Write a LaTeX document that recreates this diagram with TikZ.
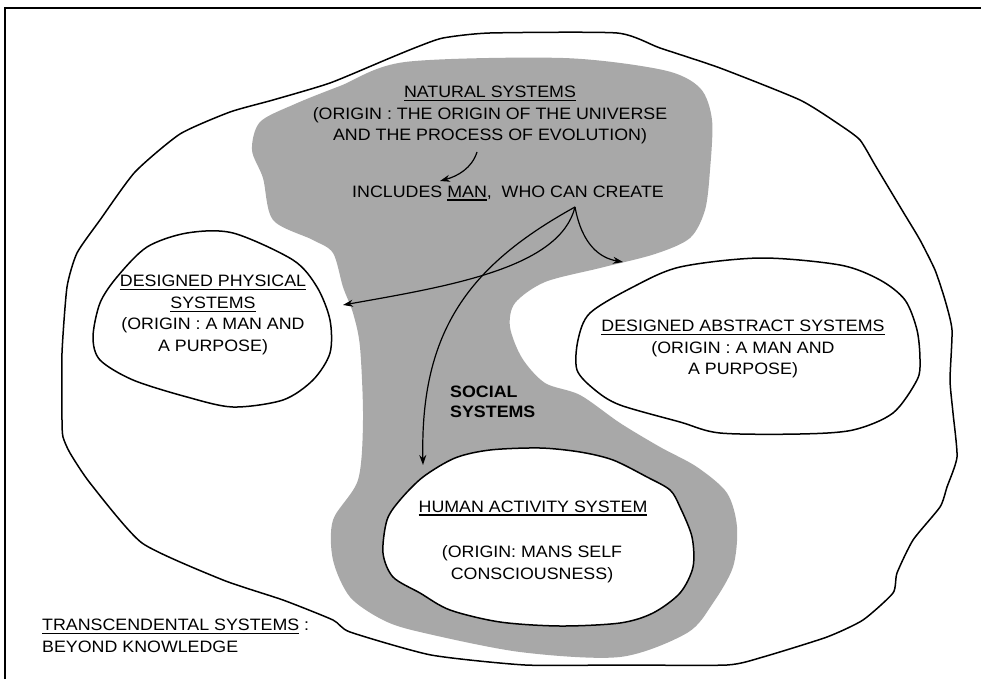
\documentclass[tikz,border=0pt]{standalone}
\usepackage{fontspec}
\setmainfont{Liberation Sans}[FakeStretch=1.08]
\usetikzlibrary{arrows.meta}
\newcommand\myul[1]{\setbox0\hbox{#1}\rlap{\rule[-3.5pt]{\wd0}{1.3pt}}\box0}
\begin{document}
\begin{tikzpicture}[x=1pt,y=-1pt,
  blob/.style={draw=black, line width=1.5pt, fill=white, line join=round},
  outline/.style={draw=black, line width=1.5pt, line join=round},
  shadearea/.style={fill=black!34},
  lbl/.style={font=\fontsize{16.5}{21.5}\selectfont, align=center, inner sep=0pt},
  arr/.style={-{Stealth[length=10pt,width=7pt]}, line width=1.2pt},
  frameline/.style={line width=1.5pt}]
\useasboundingbox (0,0) rectangle (981,679);
\fill[white] (0,0) rectangle (981,679);
% frame
\draw[frameline] (5,679) -- (5,8) -- (981,8);
% shaded region (natural + social systems)
\fill[shadearea] plot[smooth cycle, tension=0.5] coordinates {
 (252,150) (260,122) (295,104) (340,86) (405,62) (563,58) (663,70) (700,88)
 (712,120) (710,170) (705,210) (690,238) (655,254) (600,268) (545,282)
 (515,303) (510,327) (522,358) (545,383) (580,395) (620,423) (660,447)
 (697,467) (727,493) (737,527) (733,567) (713,603) (687,633) (620,657)
 (520,652) (420,632) (383,620) (350,597) (333,560) (333,520) (358,480)
 (363,420) (360,347) (353,313) (343,287) (333,253) (313,240) (273,220)
 (263,178)};
% outer boundary
\draw[outline] plot[smooth cycle, tension=0.35] coordinates {
 (490,33) (617,33) (660,48) (720,68) (800,100) (840,125) (860,140) (875,165)
 (890,190) (905,215) (920,240) (935,270) (945,300) (952,330) (950,380)
 (953,413) (957,457) (947,487) (940,507) (913,540) (897,573) (893,593)
 (863,620) (827,637) (763,657) (727,665) (620,665) (525,665) (431,655)
 (350,632) (333,620) (283,600) (223,580) (142,543) (90,483) (70,453)
 (63,437) (62,420) (62,353) (67,287) (77,253) (100,220) (135,172)
 (180,134) (230,112) (273,100) (330,83) (390,58) (417,47) (443,38)};
% designed physical
\draw[blob] plot[smooth cycle, tension=0.5] coordinates {
 (187,233) (233,233) (293,260) (317,287) (330,320) (330,353) (313,380)
 (283,400) (233,407) (187,397) (133,380) (100,360) (93,337) (100,303)
 (117,277) (147,247)};
% designed abstract
\draw[blob] plot[smooth cycle, tension=0.5] coordinates {
 (577,370) (578,340) (590,313) (633,287) (680,267) (760,258) (840,265)
 (880,280) (905,300) (917,330) (920,360) (917,380) (893,413) (853,430)
 (800,434) (720,433) (680,422) (620,405) (595,390)};
% human activity
\draw[blob] plot[smooth cycle, tension=0.5] coordinates {
 (490,450) (540,448) (580,452) (613,460) (647,477) (670,490) (680,507)
 (692,537) (693,567) (680,593) (653,613) (620,623) (560,626) (500,622)
 (450,610) (420,593) (393,577) (383,553) (387,520) (400,500) (423,477)
 (455,458)};
% texts
\node[lbl] (nat) at (490,115) {\myul{NATURAL SYSTEMS}\\(ORIGIN : THE ORIGIN OF THE UNIVERSE\\AND THE PROCESS OF EVOLUTION)};
\node[lbl] (incl) at (508,193) {INCLUDES \myul{MAN},\ \ WHO CAN CREATE};
\node[lbl] (phys) at (213,315) {\myul{DESIGNED PHYSICAL}\\\myul{SYSTEMS}\\(ORIGIN : A MAN AND\\A PURPOSE)};
\node[lbl] (abst) at (743,349) {\myul{DESIGNED ABSTRACT SYSTEMS}\\(ORIGIN : A MAN AND\\A PURPOSE)};
\node[lbl, font=\fontsize{16.5}{20}\selectfont\bfseries, align=left, anchor=west] (soc) at (450,402) {SOCIAL\\SYSTEMS};
\node[lbl] (hum) at (533,508) {\myul{HUMAN ACTIVITY SYSTEM}};
\node[lbl] (humorig) at (532,564) {(ORIGIN: MANS SELF\\CONSCIOUSNESS)};
\node[lbl, align=left, anchor=west] (trans) at (42,636) {\myul{TRANSCENDENTAL SYSTEMS}\ :\\BEYOND KNOWLEDGE};
% connectors
\coordinate (evo) at (477,152);
\coordinate (man) at (440,181);
\coordinate (can) at (575,207);
\coordinate (tophys) at (343,305);
\coordinate (tohum) at (423,465);
\coordinate (toabs) at (623,262);
\draw[arr] (evo) .. controls (472,168) and (458,176) .. (man);
\draw[arr] (can) .. controls (560,268) and (450,286) .. (tophys);
\draw[arr] (can) .. controls (470,265) and (420,330) .. (tohum);
\draw[arr] (can) .. controls (582,245) and (600,258) .. (toabs);
\end{tikzpicture}
\end{document}
